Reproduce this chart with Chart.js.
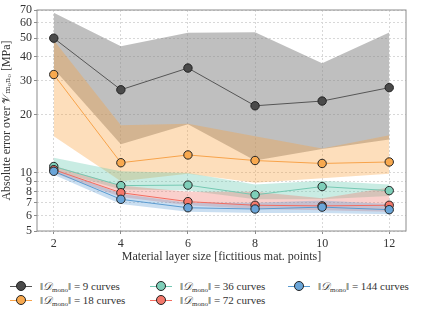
<!DOCTYPE html>
<html>
<head>
<meta charset="utf-8">
<script src="https://cdn.jsdelivr.net/npm/chart.js@4"></script>
<style>
  body { margin: 0; background: #fff; width: 425px; height: 316px; overflow: hidden; position: relative; }
  #wrap { position: absolute; left: 0; top: 0; width: 425px; height: 268px; }
  .legend { position: absolute; font-family: "Liberation Serif", "DejaVu Serif", serif; font-size: 11px; color: #333; }
  .item { position: absolute; white-space: nowrap; height: 14px; line-height: 14px; }
  .item .ln { position: absolute; top: 7px; left: 0; width: 22px; height: 1px; }
  .item .mk { position: absolute; top: 2px; left: 6px; width: 8px; height: 8px; border-radius: 50%; border: 1px solid #222; }
  .item .tx { position: absolute; left: 30px; top: 0; }
  sub { font-size: 7px; vertical-align: -2px; }
</style>
</head>
<body>
<div id="wrap"><canvas id="chart" width="425" height="268"></canvas></div>
<div class="legend" id="legend"></div>
<script>
// layer sizes on the x axis
const sizes = [2, 4, 6, 8, 10, 12];
const yTicks = [5, 6, 7, 8, 9, 10, 20, 30, 40, 50, 60, 70];
const xTicks = [2, 4, 6, 8, 10, 12];

// mean error + lower/upper band for each number of curves
const mean9 = [50, 27, 35, 22.3, 23.6, 27.7];
const low9 = [34.7, 14.1, 17.9, 11.6, 13.3, 14.9];
const high9 = [67.8, 45.4, 53.3, 53.7, 37.1, 53.5];

const mean18 = [32.4, 11.3, 12.4, 11.6, 11.2, 11.4];
const low18 = [15.5, 9.05, 9.9, 8.9, 9.4, 9.9];
const high18 = [48.8, 17.7, 18, 15.5, 13.4, 15.7];

const mean36 = [10.8, 8.6, 8.65, 7.7, 8.5, 8.1];
const low36 = [10.3, 8.2, 8.1, 7.3, 7.3, 7.6];
const high36 = [12.0, 10.2, 10.0, 8.7, 9.1, 8.7];

const mean72 = [10.4, 7.9, 7.1, 6.8, 6.75, 6.8];
const low72 = [10.0, 7.5, 6.8, 6.5, 6.4, 6.3];
const high72 = [10.9, 8.6, 8.0, 8.0, 7.4, 8.4];

const mean144 = [10.2, 7.3, 6.6, 6.5, 6.65, 6.45];
const low144 = [9.8, 6.9, 6.3, 6.2, 6.2, 6.1];
const high144 = [10.5, 7.8, 7.0, 7.0, 7.2, 6.9];

const curveCounts = [9, 18, 36, 72, 144];

const series = [
  { mean: mean9, low: low9, high: high9, line: "#555555", marker: "#4a4a4a", band: "rgba(128,128,128,0.5)" },
  { mean: mean18, low: low18, high: high18, line: "#f7a34a", marker: "#f8a94f", band: "rgba(250,160,60,0.35)" },
  { mean: mean36, low: low36, high: high36, line: "#74c8b2", marker: "#7ecfb9", band: "rgba(100,200,175,0.35)" },
  { mean: mean72, low: low72, high: high72, line: "#f26c60", marker: "#f4786b", band: "rgba(240,120,110,0.35)" },
  { mean: mean144, low: low144, high: high144, line: "#5b9bd0", marker: "#6aa5d8", band: "rgba(100,160,215,0.35)" }
];

const pts = arr => arr.map((v, i) => ({ x: sizes[i], y: v }));

const datasets = [];
series.forEach((s, k) => {
  datasets.push({
    data: pts(s.low), borderWidth: 0, pointRadius: 0, fill: false, order: 20 - k
  });
  datasets.push({
    data: pts(s.high), borderWidth: 0, pointRadius: 0, fill: "-1",
    backgroundColor: s.band, order: 20 - k
  });
});
series.forEach((s, k) => {
  datasets.push({
    data: pts(s.mean), borderColor: s.line, borderWidth: 1, fill: false,
    pointRadius: 4.2, pointBackgroundColor: s.marker, pointBorderColor: "#222",
    pointBorderWidth: 1, order: 10 - k
  });
});

// gray frame around the plot area
const framePlugin = {
  id: "frame",
  afterDatasetsDraw(chart) {
    const a = chart.chartArea, ctx = chart.ctx;
    ctx.save();
    ctx.strokeStyle = "#8c8c8c";
    ctx.lineWidth = 1;
    ctx.strokeRect(a.left, a.top, a.right - a.left, a.bottom - a.top);
    // small minor ticks on the log axis, inside both sides
    const y = chart.scales.y;
    for (let d = 1; d <= 10; d *= 10) {
      for (let m = 1; m < 10; m++) {
        const v = m * d;
        if (v < 5 || v > 70 || yTicks.includes(v)) continue;
        const py = Math.round(y.getPixelForValue(v)) + 0.5;
        ctx.beginPath();
        ctx.moveTo(a.left, py); ctx.lineTo(a.left + 2, py);
        ctx.moveTo(a.right, py); ctx.lineTo(a.right - 2, py);
        ctx.stroke();
      }
    }
    ctx.restore();
  }
};

const serif = "'Liberation Serif', 'DejaVu Serif', serif";

new Chart(document.getElementById("chart"), {
  type: "line",
  data: { datasets },
  plugins: [framePlugin],
  options: {
    responsive: false,
    animation: false,
    layout: { padding: { left: 0, right: 19, top: 10, bottom: 0 } },
    plugins: { legend: { display: false }, tooltip: { enabled: false } },
    scales: {
      x: {
        type: "linear", min: 1.5, max: 12.5,
        afterBuildTicks: s => { s.ticks = xTicks.map(v => ({ value: v })); },
        afterFit: s => { s.height = 37; },
        ticks: { color: "#333", font: { family: serif, size: 12 }, padding: 3 },
        grid: { color: "#d8d8d8", drawTicks: true, tickLength: 3, tickColor: "#8c8c8c" },
        border: { display: false, dash: [2, 2] },
        title: { display: true, text: "Material layer size [fictitious mat. points]", color: "#333",
                 font: { family: serif, size: 12 }, padding: { top: 0 } }
      },
      y: {
        type: "logarithmic", min: 5, max: 70,
        afterBuildTicks: s => { s.ticks = yTicks.map(v => ({ value: v })); },
        afterFit: s => { s.width = 37; },
        ticks: { color: "#333", font: { family: serif, size: 12 }, padding: 2, autoSkip: false,
                 callback: v => String(v) },
        grid: { color: "#d8d8d8", tickLength: 3, tickColor: "#8c8c8c" },
        border: { display: false, dash: [2, 2] },
        title: { display: true, text: "Absolute error over 𝒱ₘₒₙₒ [MPa]", color: "#333",
                 font: { family: serif, size: 12 }, padding: 0 }
      }
    }
  }
});

// legend: 3 columns, filled column by column
const legend = document.getElementById("legend");
const cols = [10, 150, 288];
const rows = [279, 293];
curveCounts.forEach((n, k) => {
  const s = series[k];
  const el = document.createElement("div");
  el.className = "item";
  el.style.left = cols[Math.floor(k / 2)] + "px";
  el.style.top = rows[k % 2] + "px";
  el.innerHTML = `<div class="ln" style="background:${s.line}"></div>` +
    `<div class="mk" style="background:${s.marker}"></div>` +
    `<div class="tx">‖<i>𝒟</i><sub>mono</sub>‖ = ${n} curves</div>`;
  legend.appendChild(el);
});
</script>
</body>
</html>
